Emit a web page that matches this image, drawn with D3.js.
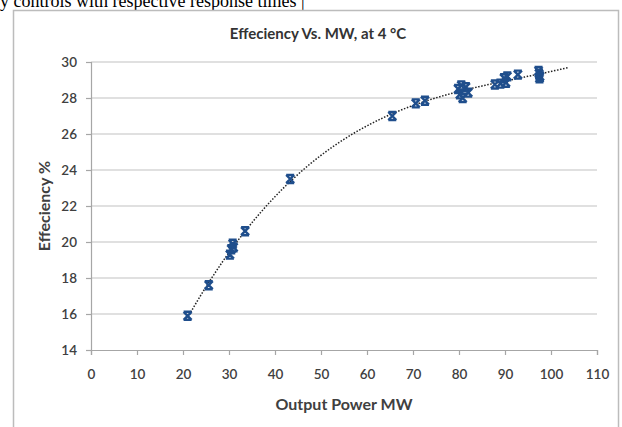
<!DOCTYPE html>
<html><head><meta charset="utf-8">
<script src="https://cdn.jsdelivr.net/npm/d3@7"></script>
<style>
html,body{margin:0;padding:0;background:#fff;overflow:hidden;}
svg{display:block;}
</style></head>
<body>
<svg id="chart" width="622" height="427"></svg>
<script>
// ---- data ----
const outputMW = [21, 25.6, 30.2, 30.5, 30.8, 31, 33.5, 43.3, 65.5, 70.6, 72.6,
  79.8, 80.2, 80.8, 81.5, 82, 80.5, 87.8, 89, 89.8, 90.2, 90.5, 92.8, 97.3, 97.6, 97.4, 97.5];
const efficiency = [15.9, 17.6, 19.3, 19.6, 19.9, 19.7, 20.6, 23.5, 27.0, 27.7, 27.85,
  28.5, 28.2, 28.0, 28.6, 28.3, 28.7, 28.75, 28.8, 29.1, 28.85, 29.2, 29.3, 29.5, 29.2, 29.35, 29.1];
const xTicks = [0, 10, 20, 30, 40, 50, 60, 70, 80, 90, 100, 110];
const yTicks = [14, 16, 18, 20, 22, 24, 26, 28, 30];
const trendOrder = 3;
const trendForward = 6;

const svg = d3.select("#chart");
const font = "Lato, 'Open Sans', sans-serif";

// caption text cut at top (as in the reference)
svg.append("text").attr("x", 0).attr("y", 7)
  .attr("font-family", "'Liberation Serif', serif").attr("font-size", 18).attr("fill", "#000")
  .text("y controls with respective response times |");

// frame
svg.append("rect").attr("x", 13.5).attr("y", 10.5).attr("width", 605).attr("height", 440)
  .attr("fill", "#fff").attr("stroke", "#bcbcbc").attr("stroke-width", 1.5);

const x = d3.scaleLinear().domain([0, 110]).range([91, 597]);
const y = d3.scaleLinear().domain([14, 30]).range([350, 62]);

// gridlines
svg.append("g").selectAll("line").data(yTicks.filter(d => d > 14)).join("line")
  .attr("x1", x(0)).attr("x2", x(110)).attr("y1", d => y(d)).attr("y2", d => y(d))
  .attr("stroke", "#d6d6d6").attr("stroke-width", 1.3);

// axes
const yAxis = d3.axisLeft(y).tickValues(yTicks).tickSize(5).tickPadding(9);
const gy = svg.append("g").attr("transform", `translate(${x(0)},0)`).call(yAxis);
const xAxis = d3.axisBottom(x).tickValues(xTicks).tickSize(5).tickPadding(14);
const gx = svg.append("g").attr("transform", `translate(0,${y(14)})`).call(xAxis);
[gx, gy].forEach(g => {
  g.select(".domain").attr("stroke", "#a6a6a6").attr("stroke-width", 1.2);
  g.selectAll(".tick line").attr("stroke", "#a6a6a6").attr("stroke-width", 1.2);
  g.selectAll(".tick text").attr("font-family", font).attr("font-size", 13.5)
    .attr("fill", "#404040").attr("font-weight", 600);
});

// trendline: least-squares polynomial fit of the data
const pts = outputMW.map((v, i) => [v, efficiency[i]]);
const cx = 60, sx = 40;
const n = trendOrder + 1;
const A = Array.from({length: n}, () => new Array(n + 1).fill(0));
pts.forEach(([px, py]) => {
  const t = (px - cx) / sx;
  for (let r = 0; r < n; r++) {
    for (let c = 0; c < n; c++) A[r][c] += Math.pow(t, r + c);
    A[r][n] += py * Math.pow(t, r);
  }
});
for (let i = 0; i < n; i++) {
  let m = i;
  for (let k = i + 1; k < n; k++) if (Math.abs(A[k][i]) > Math.abs(A[m][i])) m = k;
  [A[i], A[m]] = [A[m], A[i]];
  for (let k = 0; k < n; k++) if (k !== i) {
    const f = A[k][i] / A[i][i];
    for (let c = i; c <= n; c++) A[k][c] -= f * A[i][c];
  }
}
const coef = A.map((row, i) => row[n] / row[i]);
const fit = xv => { const t = (xv - cx) / sx; return coef.reduce((s, c, i) => s + c * Math.pow(t, i), 0); };
const xMin = d3.min(outputMW), xMax = d3.max(outputMW) + trendForward;
const trend = d3.range(0, 121).map(i => { const xv = xMin + (xMax - xMin) * i / 120; return [xv, fit(xv)]; });
svg.append("path").datum(trend)
  .attr("d", d3.line().x(d => x(d[0])).y(d => y(d[1])).curve(d3.curveMonotoneX))
  .attr("fill", "none").attr("stroke", "#222").attr("stroke-width", 1.5)
  .attr("stroke-dasharray", "1.5,1.6");

// markers (star: X plus bars)
const mk = svg.append("g");
pts.forEach(([px, py]) => {
  const cxp = x(px), cyp = y(py), r = 4;
  mk.append("path")
    .attr("d", `M${cxp - r},${cyp - r}L${cxp + r},${cyp + r}M${cxp + r},${cyp - r}L${cxp - r},${cyp + r}` +
      `M${cxp - r},${cyp - r}L${cxp + r},${cyp - r}M${cxp - r},${cyp + r}L${cxp + r},${cyp + r}`)
    .attr("stroke", "#1f4e8c").attr("stroke-width", 2.4).attr("fill", "none");
});

// titles
svg.append("text").attr("x", 318).attr("y", 39).attr("text-anchor", "middle")
  .attr("font-family", font).attr("font-size", 15).attr("font-weight", 700).attr("fill", "#333")
  .text("Effeciency Vs. MW, at 4 °C");
svg.append("text").attr("x", 344).attr("y", 410).attr("text-anchor", "middle")
  .attr("font-family", font).attr("font-size", 16).attr("font-weight", 700).attr("fill", "#404040")
  .text("Output Power MW");
svg.append("text").attr("transform", "translate(50,206) rotate(-90)").attr("text-anchor", "middle")
  .attr("font-family", font).attr("font-size", 16).attr("font-weight", 700).attr("fill", "#404040")
  .text("Effeciency %");
</script>
</body></html>
